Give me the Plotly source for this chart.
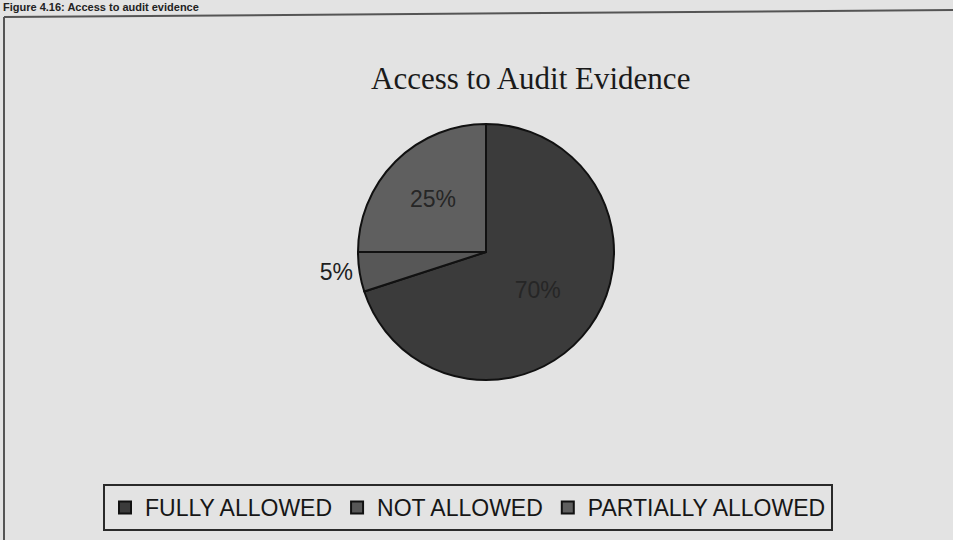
import plotly.graph_objects as go

# Data
categories = ["FULLY ALLOWED", "NOT ALLOWED", "PARTIALLY ALLOWED"]
values = [70, 5, 25]
slice_colors = ["#3b3b3b", "#575757", "#5f5f5f"]
chart_title = "Access to Audit Evidence"
page_heading = "Figure 4.16: Access to audit evidence"

W, H = 953, 540
cx, cy, r = 486, 252, 128  # pie centre / radius in px

fig = go.Figure()
fig.add_trace(go.Pie(
    labels=categories,
    values=values,
    sort=False,
    direction="clockwise",
    rotation=0,
    marker=dict(colors=slice_colors, line=dict(color="#111111", width=2)),
    texttemplate="%{percent:.0%}",
    textposition=["inside", "outside", "inside"],
    insidetextorientation="horizontal",
    textfont=dict(family="Liberation Sans, Arial", size=23, color="#262626"),
    outsidetextfont=dict(family="Liberation Sans, Arial", size=23, color="#1e1e1e"),
    insidetextfont=dict(family="Liberation Sans, Arial", size=23, color="#262626"),
    domain=dict(x=[(cx - r) / W, (cx + r) / W],
                y=[(H - cy - r) / H, (H - cy + r) / H]),
    hoverinfo="label+percent",
))

fig.update_layout(
    width=W, height=H,
    margin=dict(l=0, r=0, t=0, b=0),
    paper_bgcolor="#e3e3e3",
    plot_bgcolor="#e3e3e3",
    showlegend=True,
    legend=dict(
        orientation="h",
        x=468 / W, xanchor="center",
        y=(H - 531) / H, yanchor="bottom",
        font=dict(family="Liberation Sans, Arial", size=23, color="#161616"),
        bordercolor="#2a2a2a", borderwidth=2,
        bgcolor="rgba(0,0,0,0)",
        itemsizing="constant",
        traceorder="normal",
    ),
    annotations=[
        dict(text=chart_title, x=530 / W, y=1 - 79 / H, xref="paper", yref="paper",
             xanchor="center", yanchor="middle", showarrow=False,
             font=dict(family="Liberation Serif, Times New Roman", size=31, color="#1a1a1a")),
        dict(text="<b>" + page_heading + "</b>", x=2 / W, y=1, xref="paper", yref="paper",
             xanchor="left", yanchor="top", showarrow=False, borderpad=0,
             font=dict(family="Liberation Sans, Arial", size=11, color="#222222")),
    ],
    shapes=[
        dict(type="line", xref="paper", yref="paper", x0=4 / W, x1=4 / W, y0=0, y1=1 - 17 / H,
             line=dict(color="#555555", width=2)),
        dict(type="line", xref="paper", yref="paper", x0=4 / W, x1=1, y0=1 - 17 / H, y1=1 - 10 / H,
             line=dict(color="#555555", width=2)),
    ],
)

fig.write_html("out.html")
